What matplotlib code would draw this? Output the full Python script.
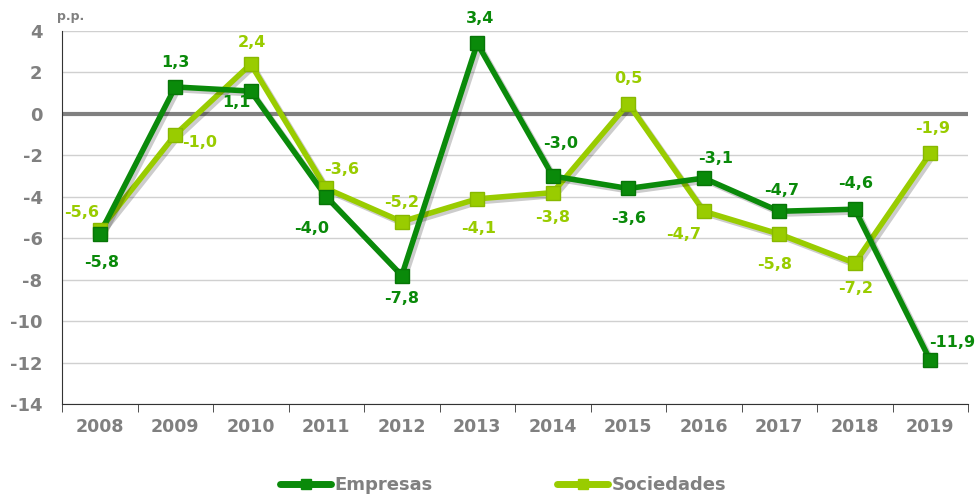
import matplotlib.pyplot as plt
import matplotlib.patheffects as pe
from matplotlib.lines import Line2D
import numpy as np

years = ["2008", "2009", "2010", "2011", "2012", "2013",
         "2014", "2015", "2016", "2017", "2018", "2019"]
empresas = [-5.8, 1.3, 1.1, -4.0, -7.8, 3.4, -3.0, -3.6, -3.1, -4.7, -4.6, -11.9]
sociedades = [-5.6, -1.0, 2.4, -3.6, -5.2, -4.1, -3.8, 0.5, -4.7, -5.8, -7.2, -1.9]

# label offsets in pixels (dx, dy)
emp_off = [(2, -28), (0, 24), (-14, -11), (-15, -32), (0, -23), (3, 25),
           (8, 33), (0, -30), (12, 20), (2, 21), (1, 26), (22, 18)]
soc_off = [(-18, 17), (24, -8), (1, 22), (15, 19), (0, 19), (1, -30),
           (0, -25), (0, 25), (-20, -23), (-5, -30), (1, -25), (2, 25)]

green = "#0a8a0a"
lime = "#99cc00"
grey = "#808080"

fig = plt.figure(figsize=(9.79, 4.95), dpi=100)
ax = fig.add_axes([62 / 979, 91 / 495, 906 / 979, 373 / 495])

x = np.arange(len(years))
shadow = [pe.SimpleLineShadow(offset=(2, -2), alpha=0.2), pe.Normal()]

ax.axhline(0, color=grey, lw=3, zorder=2)
ax.plot(x, sociedades, color=lime, lw=4, zorder=3, path_effects=shadow)
ax.plot(x, empresas, color=green, lw=4, zorder=4, path_effects=shadow)
ax.plot(x, sociedades, ls="none", marker="s", ms=10, color=lime,
        markeredgecolor="#88b800", zorder=5)
ax.plot(x, empresas, ls="none", marker="s", ms=10, color=green,
        markeredgecolor="#077507", zorder=6)

for i, v in enumerate(empresas):
    ax.annotate(f"{v:.1f}".replace(".", ","), (x[i], v), xytext=emp_off[i],
                textcoords="offset pixels", ha="center", va="center",
                color=green, fontsize=11.5, fontweight="bold", zorder=7)
for i, v in enumerate(sociedades):
    ax.annotate(f"{v:.1f}".replace(".", ","), (x[i], v), xytext=soc_off[i],
                textcoords="offset pixels", ha="center", va="center",
                color=lime, fontsize=11.5, fontweight="bold", zorder=7)

ax.set_xlim(-0.5, len(years) - 0.5)
ax.set_ylim(-14, 4)
ax.set_yticks(range(-14, 5, 2))
ax.set_yticklabels([str(t) for t in range(-14, 5, 2)], fontsize=13,
                   fontweight="bold", color=grey)
ax.set_xticks(x)
ax.set_xticklabels(years, fontsize=12.5, fontweight="bold", color=grey)
ax.set_xticks(np.arange(-0.5, len(years), 1), minor=True)
ax.tick_params(axis="x", which="major", length=0, pad=10)
ax.tick_params(axis="x", which="minor", length=6, color="#333333", direction="out")
ax.tick_params(axis="y", length=0, pad=14)
ax.grid(axis="y", color="#d0d0d0", lw=1)
ax.set_axisbelow(True)
for s in ["top", "right"]:
    ax.spines[s].set_visible(False)
ax.spines["left"].set_color("#333333")
ax.spines["bottom"].set_color("#333333")

fig.text(57 / 979, 1 - 20 / 495, "p.p.", fontsize=9, fontweight="bold", color=grey)

handles = [Line2D([], [], color=green, lw=5, marker="s", ms=7, solid_capstyle="round"),
           Line2D([], [], color=lime, lw=5, marker="s", ms=7, solid_capstyle="round")]
leg = fig.legend(handles, ["Empresas", "Sociedades"], loc="center",
                 bbox_to_anchor=(0.514, 1 - 485 / 495),
                 ncol=2, frameon=False, fontsize=13, columnspacing=6.9,
                 handlelength=2.8, handletextpad=0.2)
for t in leg.get_texts():
    t.set_color(grey)
    t.set_fontweight("bold")

fig.savefig("out.png", dpi=100)
